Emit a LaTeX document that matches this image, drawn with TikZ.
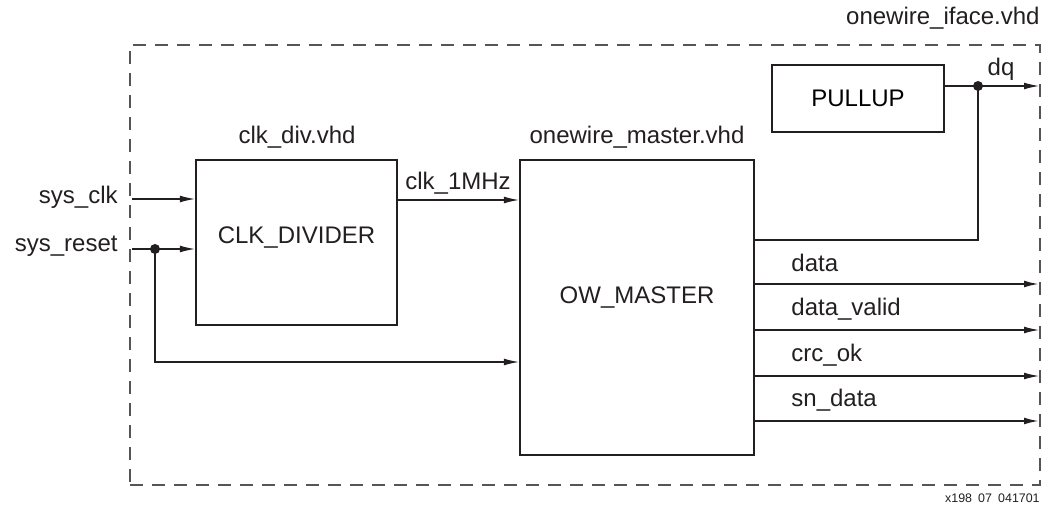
\documentclass[tikz,border=0pt]{standalone}
\usepackage{fontspec}
\setmainfont{Liberation Sans}
\usetikzlibrary{arrows.meta}
\definecolor{ink}{HTML}{231F20}
\definecolor{frame}{HTML}{555555}
\tikzset{
  blk/.style={draw=ink, line width=1.1pt, inner sep=0pt},
  sig/.style={draw=ink, line width=0.55pt},
  arr/.style={sig, -{Latex[length=7.5pt,width=3.4pt]}},
  bus/.style={arr, line width=0.9pt},
  txt/.style={inner sep=0pt, text=ink},
  dot/.style={fill=ink}
}
\begin{document}
\begin{tikzpicture}[x=0.5pt,y=-0.5pt, font=\fontsize{12}{14}\selectfont]
\useasboundingbox (0,0) rectangle (1052,512);
% frame
\node[draw=frame, line width=0.55pt, dash pattern=on 6.5pt off 4.5pt, minimum width=455pt, minimum height=220pt, inner sep=0pt] (iface) at (585,265) {};
\node[txt, anchor=east] (ifacelbl) at (1040,18) {onewire\_iface.vhd};
% blocks
\node[blk, minimum width=100.5pt, minimum height=82.5pt, label={[txt, yshift=2.5pt]center:CLK\_DIVIDER}] (clk) at (296.5,242.5) {};
\node[blk, minimum width=117pt, minimum height=147.5pt, label={[txt, yshift=5pt]center:OW\_MASTER}] (ow) at (637,307.5) {};
\node[blk, minimum width=86pt, minimum height=33.5pt] (pull) at (858,98.5) {PULLUP};
\node[txt] (clklbl) at (297,137) {clk\_div.vhd};
\node[txt] (owlbl) at (637,137) {onewire\_master.vhd};
% inputs
\node[txt, anchor=east] (sysclk) at (118,197) {sys\_clk};
\node[txt, anchor=east] (sysrst) at (118,246) {sys\_reset};
\coordinate (clkin) at (132,199);
\coordinate (rstin) at (132,249);
\coordinate (rstdot) at (155,249);
\coordinate (rstbend) at (155,362);
\draw[arr] (clkin) -- (clkin -| clk.west);
\draw[arr] (rstin) -- (rstin -| clk.west);
\draw[arr] (rstdot) -- (rstbend) -- (rstbend -| ow.west);
\fill[dot] (rstdot) circle[radius=2.5pt];
% clk_1MHz
\coordinate (c1) at (397,200);
\draw[arr] (c1 -| clk.east) -- (c1 -| ow.west);
\node[txt] (c1lbl) at (458,183) {clk\_1MHz};
% dq
\coordinate (dqdot) at (978,86);
\coordinate (dqout) at (1039,86);
\coordinate (owdq) at (754,240);
\draw[sig] (dqdot -| pull.east) -- (dqdot);
\draw[arr] (dqdot) -- (dqout);
\draw[sig] (owdq -| ow.east) -| (dqdot);
\fill[dot] (dqdot) circle[radius=2.5pt];
\node[txt] (dqlbl) at (1001,69) {dq};
% outputs
\coordinate (o1) at (1039,284);
\coordinate (o2) at (1039,330);
\coordinate (o3) at (1039,376);
\coordinate (o4) at (1039,421);
\draw[bus] (o1 -| ow.east) -- (o1);
\draw[arr] (o2 -| ow.east) -- (o2);
\draw[arr] (o3 -| ow.east) -- (o3);
\draw[bus] (o4 -| ow.east) -- (o4);
\node[txt, anchor=west] (l1) at (791,263) {data};
\node[txt, anchor=west] (l2) at (791,309) {data\_valid};
\node[txt, anchor=west] (l3) at (791,355) {crc\_ok};
\node[txt, anchor=west] (l4) at (791,400) {sn\_data};
% footer
\node[txt, anchor=east, font=\fontsize{6.2}{7}\selectfont] (foot) at (1040,498) {x198\enspace07\enspace041701};
\end{tikzpicture}
\end{document}
